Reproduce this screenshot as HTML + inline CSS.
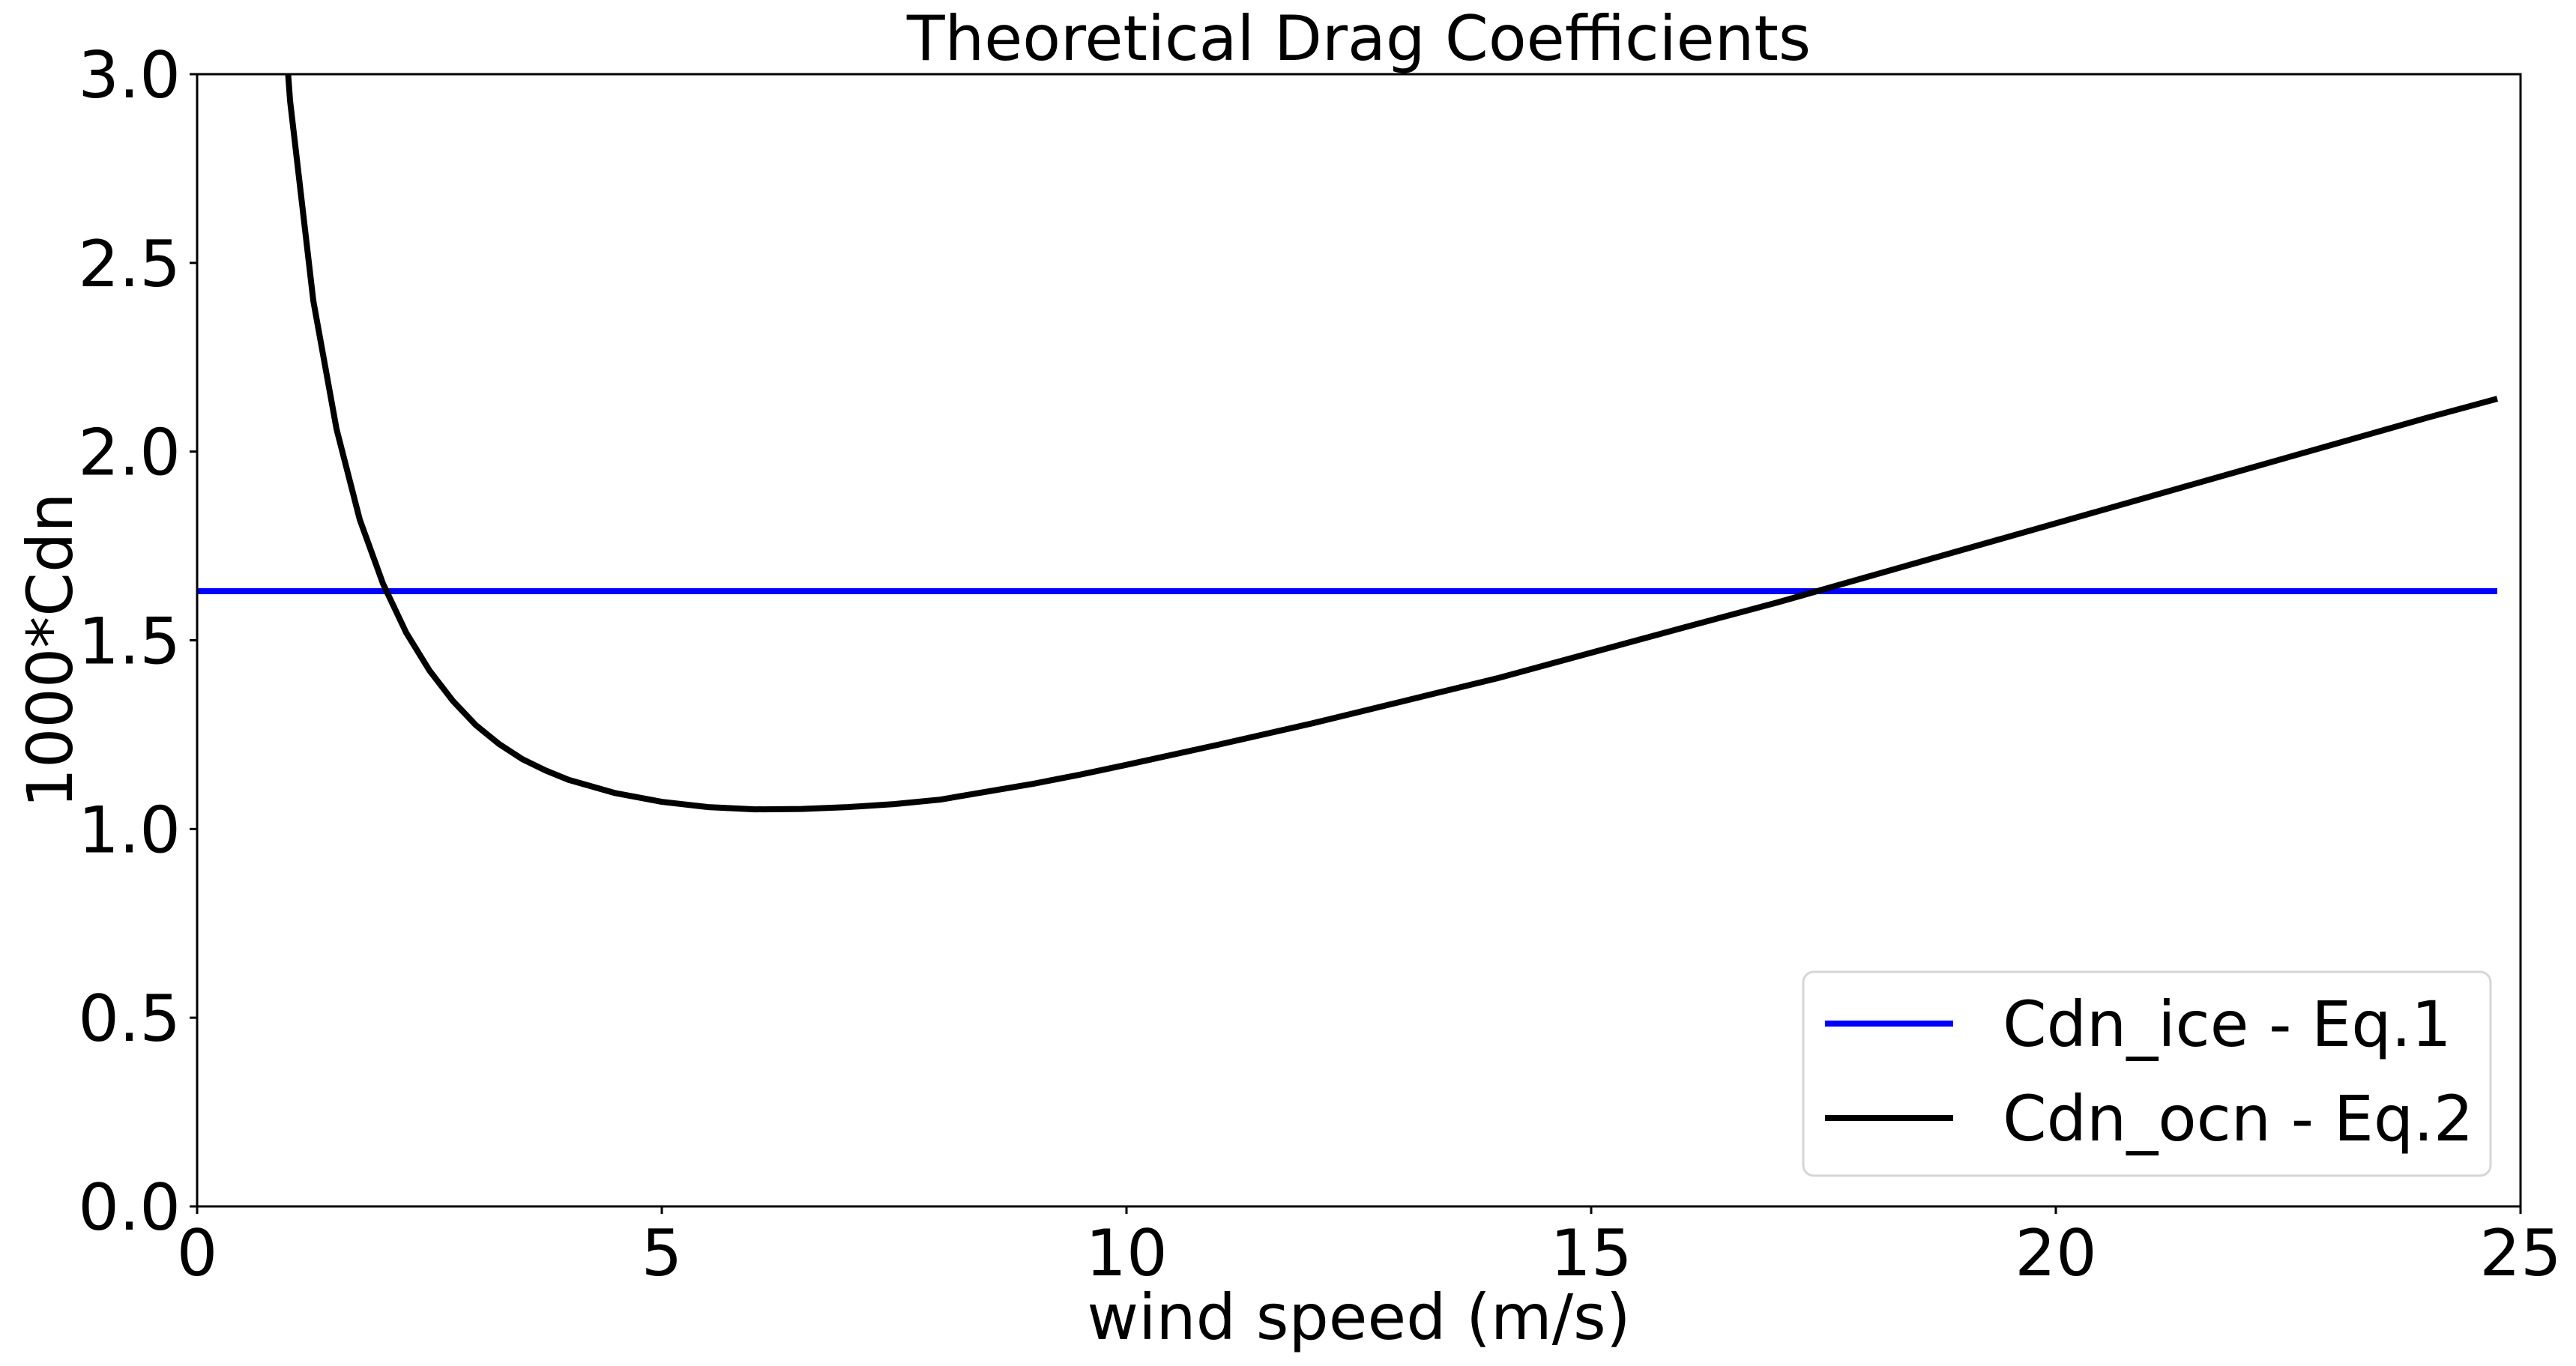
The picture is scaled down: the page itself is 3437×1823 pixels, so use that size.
<!DOCTYPE html>
<html><head><meta charset="utf-8"><style>
html,body{margin:0;padding:0;background:#fff;}
svg{display:block;font-family:"DejaVu Sans","Liberation Sans",sans-serif;}
</style></head><body>
<svg id="chart" width="3437" height="1823" viewBox="0 0 3437 1823" xmlns="http://www.w3.org/2000/svg">
<defs><clipPath id="plotclip"><rect x="263" y="99" width="3100" height="1511"/></clipPath></defs>
<rect x="0" y="0" width="3437" height="1823" fill="#fff"/>
<g id="marks" clip-path="url(#plotclip)"></g>
<g id="axes"></g>
<text x="1813" y="80" font-size="83" text-anchor="middle">Theoretical Drag Coefficients</text>
<text x="1813" y="1787" font-size="84" text-anchor="middle">wind speed (m/s)</text>
<text transform="translate(96,868) rotate(-90)" font-size="84" text-anchor="middle">1000*Cdn</text>
<g>
<rect x="2406" y="1297" width="917" height="272" rx="14" fill="#fff" fill-opacity="0.8" stroke="#d6d6d6" stroke-width="3"/>
<line x1="2435" y1="1366" x2="2606" y2="1366" stroke="#0000ff" stroke-width="8"/>
<text x="2672" y="1396" font-size="84">Cdn_ice - Eq.1</text>
<line x1="2435" y1="1492" x2="2606" y2="1492" stroke="#000" stroke-width="8"/>
<text x="2672" y="1522" font-size="84">Cdn_ocn - Eq.2</text>
</g>
</svg>
<script>
const windSpeed = [0.95,1.0,1.25,1.5,1.75,2.0,2.25,2.5,2.75,3.0,3.25,3.5,3.75,4.0,4.5,5.0,5.5,6.0,6.5,7.0,7.5,8.0,8.5,9,9.5,10,11,12,13,14,15,16,17,18,19,20,21,22,23,24,24.75];
const cdnOcn = [3.1,2.93,2.40,2.06,1.82,1.65,1.52,1.42,1.34,1.275,1.225,1.185,1.155,1.13,1.095,1.072,1.058,1.052,1.053,1.058,1.066,1.078,1.099,1.12,1.144,1.17,1.224,1.28,1.34,1.40,1.467,1.534,1.60,1.67,1.74,1.81,1.88,1.95,2.02,2.09,2.14];
const iceX = [0,24.75];
const cdnIce = [1.63,1.63];
const xTicks = [0,5,10,15,20,25];
const yTicks = [0.0,0.5,1.0,1.5,2.0,2.5,3.0];
const yTickLabels = ["0.0","0.5","1.0","1.5","2.0","2.5","3.0"];

const L=263,R=3363,T=99,B=1610;
const xs=v=>L+(v-0)/(25-0)*(R-L);
const ys=v=>B-(v-0)/(3-0)*(B-T);
const NS="http://www.w3.org/2000/svg";
const marks=document.getElementById('marks');
const axes=document.getElementById('axes');
function mk(tag,attrs,parent){const e=document.createElementNS(NS,tag);for(const k in attrs)e.setAttribute(k,attrs[k]);parent.appendChild(e);return e;}
function pts(xv,yv){return xv.map((x,i)=>xs(x)+','+ys(yv[i])).join(' ');}

const ice=mk('polyline',{points:pts(iceX,cdnIce),fill:'none',stroke:'#0000ff','stroke-width':8},marks);


const ocn=mk('polyline',{points:pts(windSpeed,cdnOcn),fill:'none',stroke:'#000','stroke-width':8,'stroke-linejoin':'round'},marks);



const frame=mk('rect',{x:L,y:T,width:R-L,height:B-T,fill:'none',stroke:'#000','stroke-width':3},axes);


xTicks.forEach(v=>{
  const t=mk('line',{x1:xs(v),y1:B,x2:xs(v),y2:B+10,stroke:'#000','stroke-width':3},axes);
  
  
  const l=mk('text',{x:xs(v),y:B+92,'font-size':86,'text-anchor':'middle'},axes);
  l.textContent=String(v);
  
  
});
yTicks.forEach((v,i)=>{
  const t=mk('line',{x1:L-10,y1:ys(v),x2:L,y2:ys(v),stroke:'#000','stroke-width':3},axes);
  
  
  const l=mk('text',{x:L-22,y:ys(v)+31,'font-size':86,'text-anchor':'end'},axes);
  l.textContent=yTickLabels[i];
  
  
});
</script>
</body></html>
